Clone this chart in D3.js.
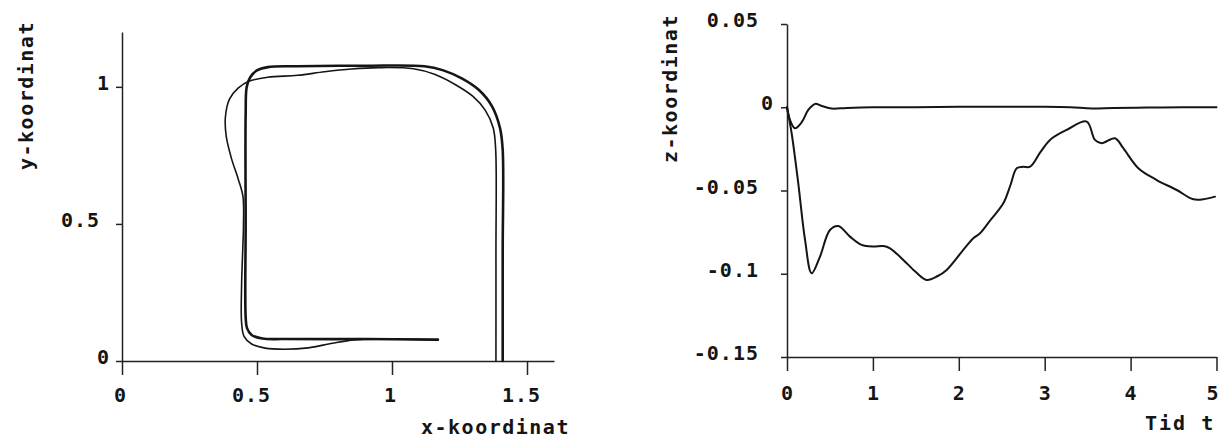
<!DOCTYPE html>
<html>
<head>
<meta charset="utf-8">
<title>Bane</title>
<script src="https://cdn.jsdelivr.net/npm/d3@7"></script>
<style>
  body { margin: 0; background: #fff; }
  text { font-family: "DejaVu Sans Mono", monospace; font-weight: bold; fill: #151515; }
  .axis path, .axis line { stroke: #222; stroke-width: 1.5; }
  .curve { fill: none; stroke: #151515; stroke-linejoin: round; stroke-linecap: round; }
</style>
</head>
<body>
<svg id="chart" width="1220" height="439"></svg>
<script>
// --- left plot: x/y path (reference path and actual trajectory)
const refX = [1.41, 1.41, 1.41, 1.40, 1.37, 1.32, 1.26, 1.19, 1.12, 0.90, 0.65, 0.54, 0.50, 0.475, 0.462, 0.458, 0.458, 0.458, 0.463, 0.48, 0.52, 0.60, 0.90, 1.17];
const refY = [0, 0.40, 0.77, 0.85, 0.93, 0.99, 1.03, 1.06, 1.075, 1.077, 1.075, 1.072, 1.06, 1.035, 1.0, 0.90, 0.50, 0.16, 0.12, 0.095, 0.082, 0.08, 0.08, 0.078];

const trajX = [1.385, 1.385, 1.384, 1.375, 1.345, 1.30, 1.24, 1.16, 1.08, 0.95, 0.85, 0.75, 0.65, 0.54, 0.47, 0.43, 0.398, 0.383, 0.386, 0.405, 0.43, 0.448, 0.45, 0.447, 0.443, 0.443, 0.452, 0.48, 0.53, 0.60, 0.69, 0.78, 0.86, 0.95, 1.17];
const trajY = [0, 0.40, 0.77, 0.85, 0.915, 0.965, 1.005, 1.045, 1.066, 1.07, 1.065, 1.055, 1.042, 1.035, 1.02, 0.995, 0.955, 0.89, 0.82, 0.74, 0.665, 0.60, 0.50, 0.40, 0.28, 0.14, 0.09, 0.062, 0.047, 0.043, 0.048, 0.065, 0.077, 0.08, 0.077];

const xTicks = [0, 0.5, 1, 1.5];
const xTickLabels = ["0", "0.5", "1", "1.5"];
const yTicks = [0, 0.5, 1];
const yTickLabels = ["0", "0.5", "1"];

// --- right plot: z over time
const tBig = [0, 0.054, 0.131, 0.21, 0.287, 0.384, 0.5, 0.597, 0.733, 0.869, 1.0, 1.12, 1.2, 1.393, 1.5, 1.626, 1.75, 1.859, 2.052, 2.169, 2.247, 2.35, 2.518, 2.6, 2.674, 2.75, 2.829, 2.95, 3.062, 3.256, 3.489, 3.585, 3.663, 3.818, 3.915, 4.09, 4.304, 4.537, 4.73, 4.846, 4.983];
const zBig = [0, -0.0156, -0.0456, -0.0797, -0.0997, -0.0897, -0.0737, -0.0713, -0.0777, -0.0827, -0.0837, -0.0833, -0.0847, -0.0937, -0.099, -0.1037, -0.1015, -0.0977, -0.0857, -0.0787, -0.0757, -0.069, -0.0577, -0.047, -0.0366, -0.0358, -0.0357, -0.027, -0.0196, -0.0136, -0.0086, -0.0196, -0.0216, -0.0186, -0.0246, -0.0366, -0.0437, -0.0497, -0.0553, -0.0553, -0.0537];

const tSmall = [0, 0.035, 0.093, 0.171, 0.248, 0.326, 0.404, 0.52, 0.695, 1, 1.5, 2, 2.5, 3, 3.3, 3.55, 3.8, 4.2, 4.6, 5];
const zSmall = [0, -0.0076, -0.0126, -0.009, -0.0016, 0.002, 0.0008, -0.0008, -0.0004, 0, 0, 0.0003, 0.0003, 0.0003, 0, -0.0007, -0.0004, -0.0002, 0, 0];

const tTicks = [0, 1, 2, 3, 4, 5];
const tTickLabels = ["0", "1", "2", "3", "4", "5"];
const zTicks = [0.05, 0, -0.05, -0.1, -0.15];
const zTickLabels = ["0.05", "0", "-0.05", "-0.1", "-0.15"];

const svg = d3.select("#chart");

function zip(a, b) { return a.map((v, i) => [v, b[i]]); }

// ---------- left
const x1 = d3.scaleLinear().domain([0, 1.6]).range([122, 554]);
const y1 = d3.scaleLinear().domain([0, 1.2]).range([361, 32]);

const gx1 = svg.append("g").attr("class", "axis")
  .attr("transform", `translate(0,${y1(0)})`)
  .call(d3.axisBottom(x1).tickValues(xTicks).tickSize(14).tickSizeOuter(0)
    .tickFormat((d, i) => xTickLabels[i]));
gx1.selectAll("text").attr("y", 41).attr("dy", 0)
  .attr("dx", d => (String(d).includes(".") ? -6 : -2));

const gy1 = svg.append("g").attr("class", "axis")
  .attr("transform", `translate(${x1(0)},0)`)
  .call(d3.axisLeft(y1).tickValues(yTicks).tickSize(6).tickSizeOuter(0)
    .tickFormat((d, i) => yTickLabels[i]));
gy1.selectAll("text").attr("dy", 0).attr("y", 2.5)
  .attr("x", d => (String(d).includes(".") ? -22 : -12));

const line1 = d3.line().x(d => x1(d[0])).y(d => y1(d[1])).curve(d3.curveCatmullRom.alpha(0.5));
svg.append("path").attr("class", "curve").attr("stroke-width", 2.6).attr("d", line1(zip(refX, refY)));
svg.append("path").attr("class", "curve").attr("stroke-width", 1.6).attr("d", line1(zip(trajX, trajY)));

// ---------- right
const x2 = d3.scaleLinear().domain([0, 5]).range([787, 1216.5]);
const y2 = d3.scaleLinear().domain([-0.15, 0.05]).range([357, 24]);

const gx2 = svg.append("g").attr("class", "axis")
  .attr("transform", `translate(0,${y2(-0.15)})`)
  .call(d3.axisBottom(x2).tickValues(tTicks).tickSize(14).tickSizeOuter(0)
    .tickFormat((d, i) => tTickLabels[i]));
gx2.selectAll("text").attr("y", 43).attr("dy", 0)
  .attr("dx", d => (d === 5 ? -4 : 0));

const gy2 = svg.append("g").attr("class", "axis")
  .attr("transform", `translate(${x2(0)},0)`)
  .call(d3.axisLeft(y2).tickValues(zTicks).tickSize(6).tickSizeOuter(0)
    .tickFormat((d, i) => zTickLabels[i]));
gy2.selectAll("text").attr("dy", 0).attr("y", 2.5)
  .attr("x", d => (d === 0 ? -13 : -28));

const line2 = d3.line().x(d => x2(d[0])).y(d => y2(d[1])).curve(d3.curveCatmullRom.alpha(0.5));
svg.append("path").attr("class", "curve").attr("stroke-width", 2).attr("d", line2(zip(tSmall, zSmall)));
svg.append("path").attr("class", "curve").attr("stroke-width", 2).attr("d", line2(zip(tBig, zBig)));

// ---------- fonts on all text
svg.selectAll("text").style("font-size", "20px").style("letter-spacing", "1px")
  .style("font-family", "\"DejaVu Sans Mono\", monospace").style("font-weight", "bold").attr("fill", "#151515");

// ---------- axis titles
function title(txt, tr, spacing) {
  svg.append("text").attr("transform", tr).attr("text-anchor", "start")
    .style("font-size", "20px").style("letter-spacing", spacing + "px").text(txt);
}
title("x-koordinat", "translate(421,434)", 1.5);
title("Tid t", "translate(1145,430)", 2);
title("y-koordinat", "translate(33,170) rotate(-90)", 1.5);
title("z-koordinat", "translate(677,163) rotate(-90)", 1.5);
</script>
</body>
</html>
